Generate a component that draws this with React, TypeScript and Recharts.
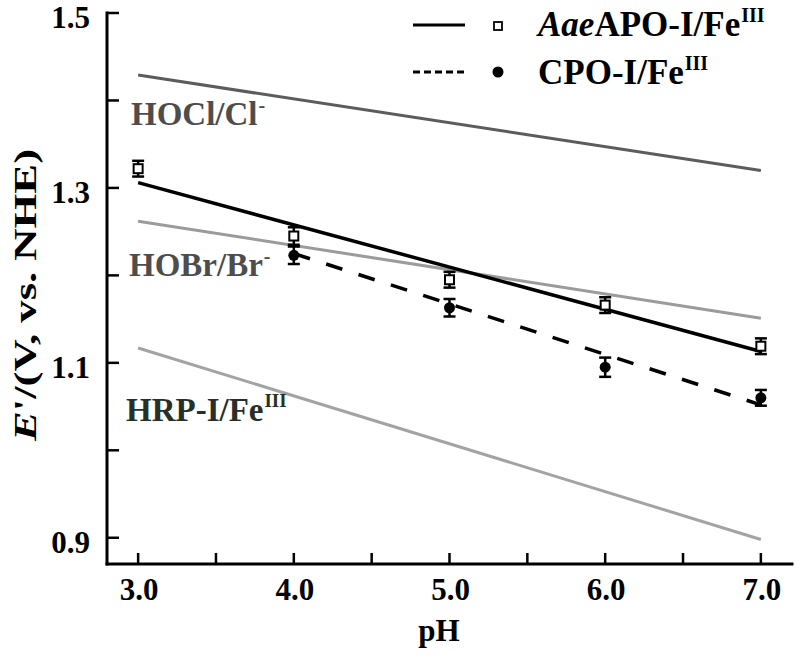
import React from 'react';
import { ComposedChart, Line, Scatter, XAxis, YAxis, ErrorBar, Label } from 'recharts';

const FONT = '"Liberation Serif", "Times New Roman", serif';

// axis ticks
const phTicks = [3.0, 3.5, 4.0, 4.5, 5.0, 5.5, 6.0, 6.5, 7.0];
const phTickLabels = ['3.0', '', '4.0', '', '5.0', '', '6.0', '', '7.0'];
const eTicks = [0.9, 1.0, 1.1, 1.2, 1.3, 1.4, 1.5];
const eTickLabels = ['0.9', '', '1.1', '', '1.3', '', '1.5'];

// reference redox couples (lines)
const refPH = [3.0, 7.0];
const hoclE = [1.429, 1.32];
const hobrE = [1.262, 1.151];
const hrpE = [1.117, 0.898];

// fitted lines
const aaeFitPH = [3.0, 7.0];
const aaeFitE = [1.306, 1.113];
const cpoFitPH = [4.0, 7.0];
const cpoFitE = [1.225, 1.052];

// measured points
const aaePH = [3.0, 4.0, 5.0, 6.0, 7.0];
const aaeE = [1.322, 1.245, 1.195, 1.166, 1.119];
const aaeErr = [0.009, 0.01, 0.009, 0.009, 0.009];
const cpoPH = [4.0, 5.0, 6.0, 7.0];
const cpoE = [1.223, 1.163, 1.095, 1.06];
const cpoErr = [0.01, 0.01, 0.011, 0.009];

const zip = (xs: number[], ys: number[], errs?: number[]) =>
  xs.map((x, i) => ({ x, y: ys[i], err: errs ? errs[i] : 0 }));

const hoclData = zip(refPH, hoclE);
const hobrData = zip(refPH, hobrE);
const hrpData = zip(refPH, hrpE);
const aaeFitData = zip(aaeFitPH, aaeFitE);
const cpoFitData = zip(cpoFitPH, cpoFitE);
const aaeData = zip(aaePH, aaeE, aaeErr);
const cpoData = zip(cpoPH, cpoE, cpoErr);

const XTick = (props: any) => {
  const { x, y, payload } = props;
  const i = phTicks.findIndex((t) => Math.abs(t - payload.value) < 1e-6);
  const label = i >= 0 ? phTickLabels[i] : '';
  return (
    <g>
      <line x1={x} x2={x} y1={y} y2={y - 11} stroke="#000" strokeWidth={2.5} />
      {label ? (
        <text x={x + 1} y={y + 36} textAnchor="middle" fontFamily={FONT} fontWeight="bold" fontSize={31} fill="#000">
          {label}
        </text>
      ) : null}
    </g>
  );
};

const YTick = (props: any) => {
  const { x, y, payload } = props;
  const i = eTicks.findIndex((t) => Math.abs(t - payload.value) < 1e-6);
  const label = i >= 0 ? eTickLabels[i] : '';
  return (
    <g>
      <line x1={x} x2={x + 12} y1={y} y2={y} stroke="#000" strokeWidth={2.5} />
      {label ? (
        <text x={x - 17} y={y + 15} textAnchor="end" fontFamily={FONT} fontWeight="bold" fontSize={31} fill="#000">
          {label}
        </text>
      ) : null}
    </g>
  );
};

const SquareMark = (p: any) => (
  <rect x={p.cx - 4.5} y={p.cy - 4.5} width={9} height={9} fill="#fff" stroke="#000" strokeWidth={2} />
);
const DotMark = (p: any) => <circle cx={p.cx} cy={p.cy} r={5.5} fill="#000" />;

export default function App() {
  return (
    <div style={{ position: 'absolute', left: 0, top: 0, width: 800, height: 659, background: '#fff' }}>
      <ComposedChart width={800} height={659} margin={{ top: 13, right: 8, bottom: 35, left: 0 }}>
        <XAxis
          type="number"
          dataKey="x"
          domain={[2.8, 7.2]}
          allowDataOverflow
          ticks={phTicks}
          interval={0}
          tickSize={0}
          tickMargin={0}
          tickLine={false}
          tick={<XTick />}
          height={60}
          axisLine={{ stroke: '#000', strokeWidth: 3, strokeLinecap: 'square' }}
        >
          <Label
            content={() => (
              <text x={439} y={641} textAnchor="middle" fontFamily={FONT} fontWeight="bold" fontSize={31} fill="#000">
                pH
              </text>
            )}
          />
        </XAxis>
        <YAxis
          type="number"
          domain={[0.87, 1.5]}
          allowDataOverflow
          ticks={eTicks}
          interval={0}
          tickSize={0}
          tickMargin={0}
          tickLine={false}
          tick={<YTick />}
          width={107}
          axisLine={{ stroke: '#000', strokeWidth: 3, strokeLinecap: 'square' }}
        >
          <Label
            content={() => (
              <text
                transform="translate(36,295) rotate(-90)"
                x={0}
                y={0}
                textAnchor="middle"
                fontFamily={FONT}
                fontWeight="bold"
                fontSize={32}
                fill="#000"
                textLength={292}
                lengthAdjust="spacingAndGlyphs"
              >
                <tspan fontStyle="italic">E</tspan>
                {"'/(V, vs. NHE)"}
              </text>
            )}
          />
        </YAxis>
        <Line data={hoclData} dataKey="y" type="linear" stroke="#5c5c5c" strokeWidth={3} dot={false} isAnimationActive={false} />
        <Line data={hobrData} dataKey="y" type="linear" stroke="#9b9b9b" strokeWidth={3} dot={false} isAnimationActive={false} />
        <Line data={hrpData} dataKey="y" type="linear" stroke="#a3a3a3" strokeWidth={3} dot={false} isAnimationActive={false} />
        <Line data={aaeFitData} dataKey="y" type="linear" stroke="#000" strokeWidth={3.5} dot={false} isAnimationActive={false} />
        <Line
          data={cpoFitData}
          dataKey="y"
          type="linear"
          stroke="#000"
          strokeWidth={3.5}
          strokeDasharray="17 17"
          dot={false}
          isAnimationActive={false}
        />
        <Scatter data={aaeData} dataKey="y" shape={SquareMark} isAnimationActive={false}>
          <ErrorBar dataKey="err" direction="y" width={6} stroke="#000" strokeWidth={2.5} isAnimationActive={false} />
        </Scatter>
        <Scatter data={cpoData} dataKey="y" shape={DotMark} isAnimationActive={false}>
          <ErrorBar dataKey="err" direction="y" width={6} stroke="#000" strokeWidth={2.5} isAnimationActive={false} />
        </Scatter>
      </ComposedChart>
      <svg
        width={800}
        height={659}
        style={{ position: 'absolute', left: 0, top: 0, pointerEvents: 'none' }}
        fontFamily={FONT}
        fontWeight="bold"
      >
        {/* legend */}
        <line x1={413} x2={465} y1={25} y2={25} stroke="#000" strokeWidth={3} />
        <rect x={494} y={22} width={8} height={8} fill="#fff" stroke="#000" strokeWidth={1.8} />
        <text x={538} y={36} fontSize={35} fill="#000">
          <tspan fontStyle="italic">Aae</tspan>
          APO-I/Fe
          <tspan dx={1} dy={-14} fontSize={20}>III</tspan>
        </text>
        <line x1={413} x2={465} y1={72} y2={72} stroke="#000" strokeWidth={3} strokeDasharray="7 4" />
        <circle cx={498} cy={72} r={5.5} fill="#000" />
        <text x={538} y={84} fontSize={35} fill="#000">
          CPO-I/Fe
          <tspan dx={1} dy={-14} fontSize={20}>III</tspan>
        </text>
        {/* line annotations */}
        <text x={131} y={125} fontSize={33} fill="#4d4d4d">
          HOCl/Cl
          <tspan dx={1} dy={-13} fontSize={20}>-</tspan>
        </text>
        <text x={129} y={276} fontSize={33} fill="#4d4d4d">
          HOBr/Br
          <tspan dx={1} dy={-13} fontSize={20}>-</tspan>
        </text>
        <text x={126} y={421} fontSize={33} fill="#263029">
          HRP-I/Fe
          <tspan dx={1} dy={-14} fontSize={19}>III</tspan>
        </text>
      </svg>
    </div>
  );
}
